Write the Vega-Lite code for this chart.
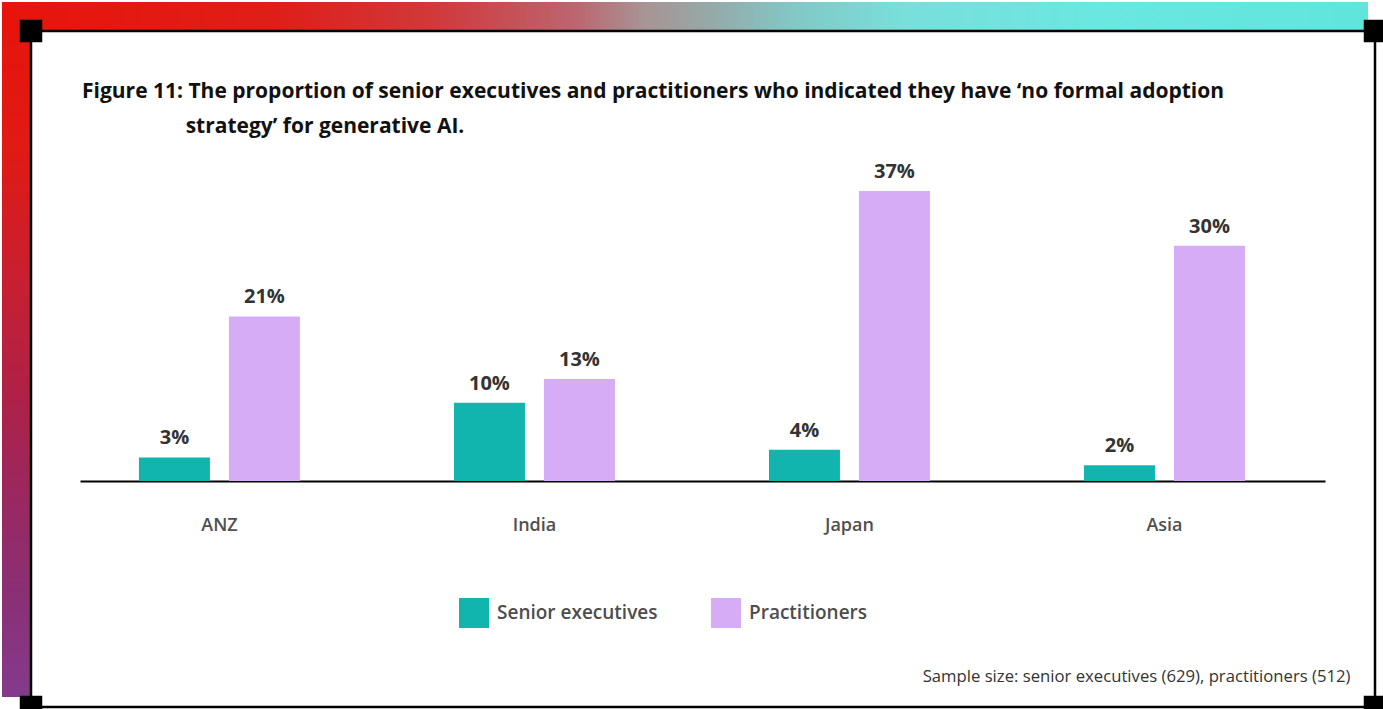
{
  "$schema": "https://vega.github.io/schema/vega-lite/v6.json",
  "padding": {"left": 2, "top": 2, "right": 0, "bottom": 0},
  "background": "white",
  "spacing": 0,
  "bounds": "flush",
  "config": {"view": {"stroke": null}, "font": "Open Sans"},
  "vconcat": [
    {
      "width": 1366,
      "height": 29,
      "data": {"values": [{}]},
      "mark": {
        "type": "rect",
        "color": {
          "gradient": "linear",
          "x1": 0, "y1": 0, "x2": 1, "y2": 0,
          "stops": [
            {"offset": 0, "color": "#e8140b"},
            {"offset": 0.2, "color": "#df1e18"},
            {"offset": 0.32, "color": "#d03a3c"},
            {"offset": 0.42, "color": "#bd6570"},
            {"offset": 0.47, "color": "#a89494"},
            {"offset": 0.52, "color": "#95aaa8"},
            {"offset": 0.58, "color": "#82c8c6"},
            {"offset": 0.66, "color": "#79dfdb"},
            {"offset": 0.8, "color": "#6ae7e0"},
            {"offset": 1, "color": "#5fe5dc"}
          ]
        }
      },
      "encoding": {}
    },
    {
      "spacing": 0,
      "bounds": "flush",
      "hconcat": [
        {
          "width": 29,
          "height": 666,
          "data": {"values": [{}]},
          "mark": {
            "type": "rect",
            "color": {
              "gradient": "linear",
              "x1": 0, "y1": 0, "x2": 0, "y2": 1,
              "stops": [
                {"offset": 0, "color": "#e5150c"},
                {"offset": 0.18, "color": "#e01a14"},
                {"offset": 0.37, "color": "#c81f30"},
                {"offset": 0.55, "color": "#ae2148"},
                {"offset": 0.7, "color": "#9a2860"},
                {"offset": 0.85, "color": "#8a3075"},
                {"offset": 1, "color": "#843a8c"}
              ]
            }
          },
          "encoding": {}
        },
        {
          "width": 1344,
          "height": 676,
          "view": {"stroke": "black", "strokeWidth": 2.5, "fill": "white"},
          "title": {
            "text": [
              "Figure 11: The proportion of senior executives and practitioners who indicated they have ‘no formal adoption",
              "\u200b\u00a0\u00a0\u00a0\u00a0\u00a0\u00a0\u00a0\u00a0\u00a0\u00a0\u00a0\u00a0\u00a0\u00a0\u00a0\u00a0\u00a0\u00a0\u00a0strategy’ for generative AI."
            ],
            "anchor": "start",
            "frame": "group",
            "baseline": "top",
            "offset": -117,
            "dx": 51,
            "font": "Open Sans",
            "fontSize": 21,
            "fontWeight": "bold",
            "color": "#111111",
            "lineHeight": 35
          },
          "data": {
            "values": [
              {"region": "ANZ", "group": "Senior executives", "value": 3, "label": "3%"},
              {"region": "ANZ", "group": "Practitioners", "value": 21, "label": "21%"},
              {"region": "India", "group": "Senior executives", "value": 10, "label": "10%"},
              {"region": "India", "group": "Practitioners", "value": 13, "label": "13%"},
              {"region": "Japan", "group": "Senior executives", "value": 4, "label": "4%"},
              {"region": "Japan", "group": "Practitioners", "value": 37, "label": "37%"},
              {"region": "Asia", "group": "Senior executives", "value": 2, "label": "2%"},
              {"region": "Asia", "group": "Practitioners", "value": 30, "label": "30%"}
            ]
          },
          "layer": [
            {
              "encoding": {
                "x": {
                  "field": "region",
                  "type": "nominal",
                  "sort": ["ANZ", "India", "Japan", "Asia"],
                  "scale": {"range": [49, 1294], "paddingInner": 0.489, "paddingOuter": 0.2206, "align": 0.424},
                  "axis": {
                    "title": "Sample size: senior executives (629), practitioners (512)",
                    "titleX": 1319,
                    "titleY": 200,
                    "titleAlign": "right",
                    "titleAnchor": "end",
                    "titleBaseline": "alphabetic",
                    "titleFont": "Open Sans",
                    "titleFontSize": 16.7,
                    "titleFontWeight": "normal",
                    "titleColor": "#333333",
                    "labelFont": "Open Sans",
                    "labelFontSize": 18,
                    "labelFontWeight": 600,
                    "labelColor": "#505050",
                    "labelPadding": 49,
                    "labelBaseline": "alphabetic",
                    "labelAngle": 0,
                    "ticks": false,
                    "grid": false,
                    "domainColor": "#000000",
                    "domainWidth": 2,
                    "offset": -226
                  }
                },
                "xOffset": {
                  "field": "group",
                  "type": "nominal",
                  "sort": ["Senior executives", "Practitioners"],
                  "scale": {"paddingInner": 0.211, "paddingOuter": 0}
                },
                "y": {
                  "field": "value",
                  "type": "quantitative",
                  "scale": {"domain": [-28.83, 57.41], "nice": false, "zero": false},
                  "axis": null
                }
              },
              "layer": [
                {
                  "mark": {"type": "bar"},
                  "encoding": {
                    "y2": {"datum": 0},
                    "color": {
                      "field": "group",
                      "type": "nominal",
                      "sort": ["Senior executives", "Practitioners"],
                      "scale": {"domain": ["Senior executives", "Practitioners"], "range": ["#11b5ae", "#d6acf7"]},
                      "legend": {
                        "orient": "none",
                        "legendX": 457,
                        "legendY": 596,
                        "direction": "horizontal",
                        "title": null,
                        "symbolType": "square",
                        "symbolSize": 900,
                        "symbolStrokeWidth": 0,
                        "symbolOpacity": 1,
                        "labelFont": "Open Sans",
                        "labelFontSize": 19,
                        "labelFontWeight": 600,
                        "labelColor": "#4d4d4d",
                        "labelOffset": 8,
                        "labelLimit": 400,
                        "columnPadding": 53
                      }
                    }
                  }
                },
                {
                  "mark": {
                    "type": "text",
                    "baseline": "alphabetic",
                    "dy": -13,
                    "font": "Open Sans",
                    "fontSize": 20,
                    "fontWeight": "bold",
                    "color": "#333333"
                  },
                  "encoding": {"text": {"field": "label"}}
                }
              ]
            },
            {
              "data": {"values": [{}]},
              "mark": {"type": "square", "size": 506, "color": "black", "opacity": 1, "x": 0, "y": 0},
              "encoding": {}
            },
            {
              "data": {"values": [{}]},
              "mark": {"type": "square", "size": 506, "color": "black", "opacity": 1, "x": "width", "y": 0},
              "encoding": {}
            },
            {
              "data": {"values": [{}]},
              "mark": {"type": "square", "size": 506, "color": "black", "opacity": 1, "x": 0, "y": "height"},
              "encoding": {}
            },
            {
              "data": {"values": [{}]},
              "mark": {"type": "square", "size": 506, "color": "black", "opacity": 1, "x": "width", "y": "height"},
              "encoding": {}
            }
          ]
        }
      ]
    }
  ]
}
